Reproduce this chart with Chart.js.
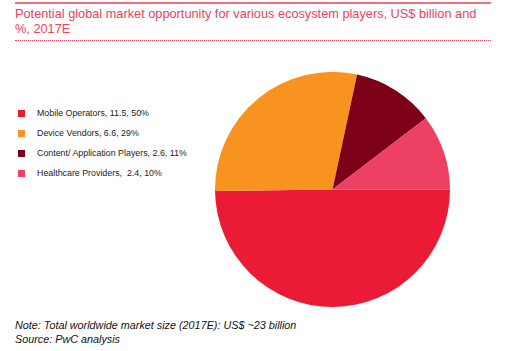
<!DOCTYPE html>
<html>
<head>
<meta charset="utf-8">
<script src="https://cdn.jsdelivr.net/npm/chart.js@4/dist/chart.umd.min.js"></script>
<style>
  html, body { margin: 0; padding: 0; background: #fff; width: 509px; height: 351px; overflow: hidden; font-family: "Liberation Sans", Arial, sans-serif; }
  #topline { position: absolute; left: 15px; top: 2px; width: 476px; height: 2px; background: #F0707F; }
  #title { position: absolute; left: 15px; top: 6px; width: 490px; color: #E9435C; font-size: 12.75px; line-height: 15px; white-space: nowrap; }
  #dots { position: absolute; left: 15px; top: 40px; width: 476px; height: 0; border-top: 1.5px dotted #E9435C; }
  #legend { position: absolute; left: 18px; top: 107px; }
  .row { position: relative; height: 20px; font-size: 8.85px; color: #222; }
  .sw { position: absolute; left: 0; top: 3px; width: 7px; height: 7px; }
  .lt { position: absolute; left: 19px; top: 1px; white-space: pre; }
  #wrap { position: absolute; left: 215px; top: 72px; width: 235px; height: 235px; }
  #note { position: absolute; left: 15px; top: 318px; font-size: 10.8px; line-height: 14px; font-style: italic; color: #111; }
</style>
</head>
<body>
<div id="topline"></div>
<div id="title">Potential global market opportunity for various ecosystem players, US$ billion and<br>%, 2017E</div>
<div id="dots"></div>
<div id="legend"></div>
<div id="wrap"><canvas id="c" width="235" height="235"></canvas></div>
<div id="note">Note: Total worldwide market size (2017E): US$ ~23 billion<br>Source: PwC analysis</div>
<script>
const categories = ["Mobile Operators", "Device Vendors", "Content/ Application Players", "Healthcare Providers"];
const values = [11.5, 6.6, 2.6, 2.4];
const percents = [50, 29, 11, 10];
const legendLabels = ["Mobile Operators, 11.5, 50%", "Device Vendors, 6.6, 29%", "Content/ Application Players, 2.6, 11%", "Healthcare Providers,  2.4, 10%"];
const colors = ["#EC1B35", "#F7931E", "#7D0019", "#EE4063"];

const lg = document.getElementById('legend');
legendLabels.forEach((t, i) => {
  const r = document.createElement('div'); r.className = 'row';
  const s = document.createElement('div'); s.className = 'sw'; s.style.background = colors[i];
  const l = document.createElement('div'); l.className = 'lt'; l.textContent = t;
  r.appendChild(s); r.appendChild(l); lg.appendChild(r);
});

new Chart(document.getElementById('c'), {
  type: 'pie',
  data: {
    labels: categories,
    datasets: [{ data: values, backgroundColor: colors, borderWidth: 0 }]
  },
  options: {
    responsive: false,
    animation: false,
    rotation: 90,
    layout: { padding: 0 },
    plugins: { legend: { display: false }, tooltip: { enabled: false } }
  }
});
</script>
</body>
</html>
